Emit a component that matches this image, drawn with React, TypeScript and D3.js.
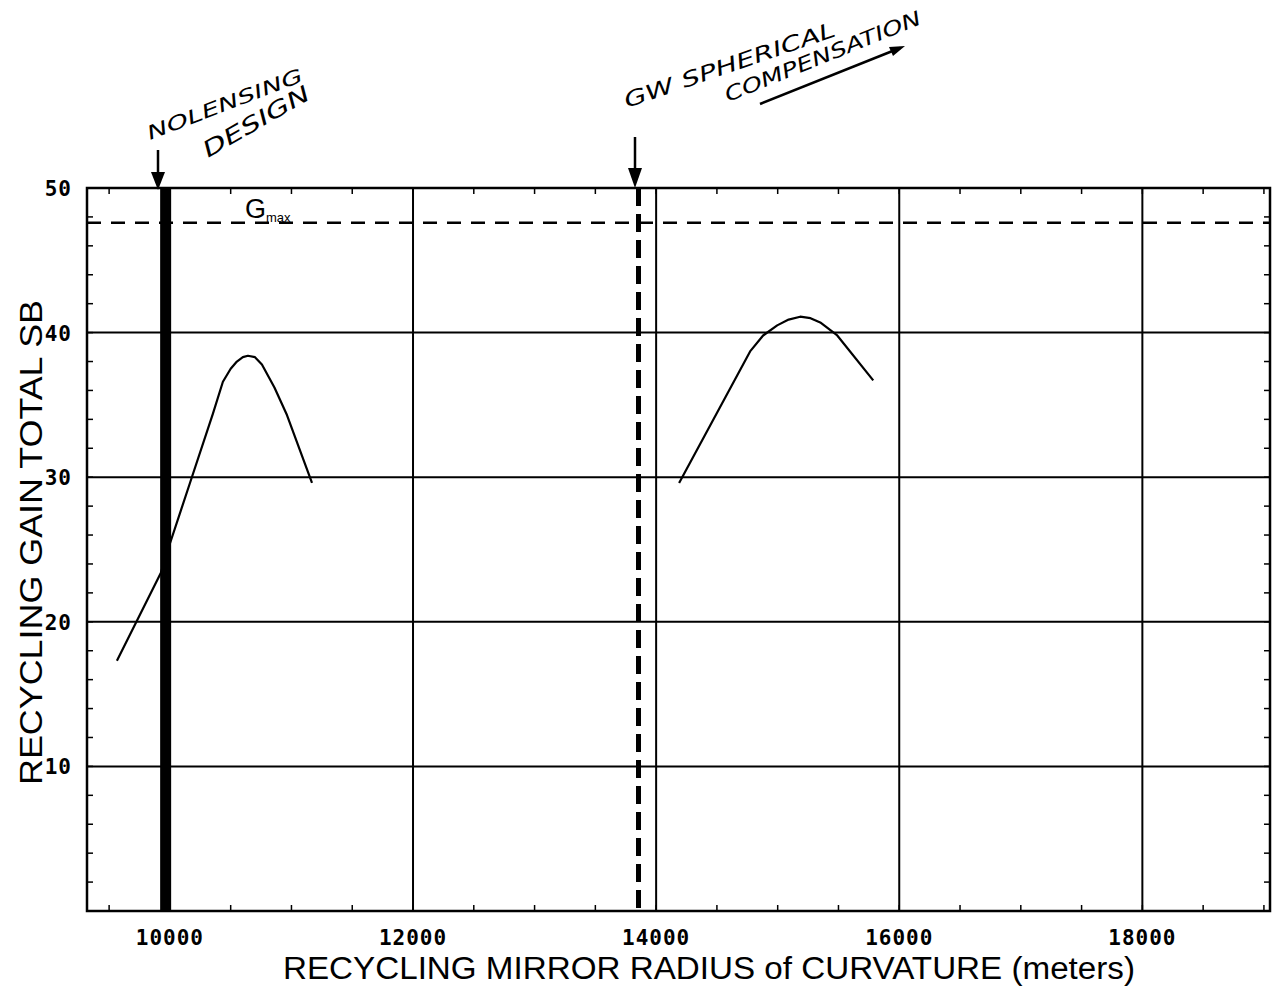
import React from "react";
import * as d3 from "d3";

// ---- data ----
const xTickValues = [10000, 12000, 14000, 16000, 18000];
const yTickValues = [10, 20, 30, 40, 50];
const xTitle = "RECYCLING MIRROR RADIUS of CURVATURE (meters)";
const yTitle = "RECYCLING GAIN TOTAL SB";

const leftCurveX = [9564, 9926, 9984, 10165, 10354, 10436, 10500, 10551, 10600, 10642, 10700, 10757, 10860, 10963, 11169];
const leftCurveY = [17.3, 23.4, 25.0, 29.6, 34.4, 36.6, 37.5, 38.0, 38.3, 38.4, 38.3, 37.8, 36.2, 34.3, 29.6];

const rightCurveX = [14189, 14773, 14880, 14996, 15090, 15185, 15270, 15350, 15490, 15786];
const rightCurveY = [29.6, 38.7, 39.8, 40.5, 40.9, 41.1, 41.0, 40.7, 39.8, 36.7];

const gMax = 47.6;
const noLensingX = 9965;
const gwCompX = 13855;

const W = 1277;
const H = 990;
const left = 87;
const right = 1270;
const top = 188;
const bottom = 911;

export default function App() {
  const x = d3.scaleLinear().domain([9318, 19050]).range([left, right]);
  const y = d3.scaleLinear().domain([0, 50]).range([bottom, top]);

  const line = d3
    .line<[number, number]>()
    .x((d) => x(d[0]))
    .y((d) => y(d[1]))
    .curve(d3.curveLinear);

  const leftPts = leftCurveX.map((v, i) => [v, leftCurveY[i]] as [number, number]);
  const rightPts = rightCurveX.map((v, i) => [v, rightCurveY[i]] as [number, number]);

  const xMinor = d3.range(9500, 19001, 500);
  const yMinor = d3.range(2, 50, 2);

  const hand = "'DejaVu Sans', sans-serif";

  return (
    <svg
      width={W}
      height={H}
      style={{ position: "absolute", left: 0, top: 0, background: "#fff" }}
    >
      <rect x={0} y={0} width={W} height={H} fill="#fff" />
      {/* grid */}
      {xTickValues.map((v) => (
        <line key={"gx" + v} x1={x(v)} x2={x(v)} y1={top} y2={bottom} stroke="#000" strokeWidth={2} />
      ))}
      {yTickValues.map((v) => (
        <line key={"gy" + v} x1={left} x2={right} y1={y(v)} y2={y(v)} stroke="#000" strokeWidth={2} />
      ))}
      {/* minor ticks */}
      {xMinor.map((v) => (
        <g key={"mx" + v}>
          <line x1={x(v)} x2={x(v)} y1={bottom} y2={bottom - 6} stroke="#000" strokeWidth={1.5} />
          <line x1={x(v)} x2={x(v)} y1={top} y2={top + 6} stroke="#000" strokeWidth={1.5} />
        </g>
      ))}
      {yMinor.map((v) => (
        <g key={"my" + v}>
          <line x1={left} x2={left + 6} y1={y(v)} y2={y(v)} stroke="#000" strokeWidth={1.5} />
          <line x1={right} x2={right - 6} y1={y(v)} y2={y(v)} stroke="#000" strokeWidth={1.5} />
        </g>
      ))}
      {/* frame */}
      <rect x={left} y={top} width={right - left} height={bottom - top} fill="none" stroke="#000" strokeWidth={2.5} />

      {/* Gmax dashed */}
      <line x1={left} x2={right} y1={y(gMax)} y2={y(gMax)} stroke="#000" strokeWidth={2.5} strokeDasharray="14,10" />
      <text x={245} y={y(gMax) - 5} fontFamily="'Liberation Sans', Arial, sans-serif" fontSize={27} fill="#000">
        G
        <tspan fontSize={13} dy={4}>max</tspan>
      </text>

      {/* vertical design markers */}
      <line x1={x(noLensingX)} x2={x(noLensingX)} y1={top} y2={bottom} stroke="#000" strokeWidth={11} />
      <line x1={x(gwCompX)} x2={x(gwCompX)} y1={top} y2={bottom} stroke="#000" strokeWidth={5} strokeDasharray="18,8" />

      {/* curves */}
      <path d={line(leftPts) || ""} fill="none" stroke="#000" strokeWidth={2.2} strokeLinejoin="round" />
      <path d={line(rightPts) || ""} fill="none" stroke="#000" strokeWidth={2.2} strokeLinejoin="round" />

      {/* x tick labels */}
      {xTickValues.map((v) => (
        <text
          key={"tx" + v}
          x={x(v)}
          y={945}
          textAnchor="middle"
          fontFamily="'DejaVu Sans Mono', monospace"
          fontWeight="bold"
          fontSize={21}
          letterSpacing={1}
          fill="#000"
        >
          {v}
        </text>
      ))}
      {/* y tick labels */}
      {yTickValues.map((v) => (
        <text
          key={"ty" + v}
          x={72}
          y={y(v) + 8}
          textAnchor="end"
          fontFamily="'DejaVu Sans Mono', monospace"
          fontWeight="bold"
          fontSize={21}
          letterSpacing={1}
          fill="#000"
        >
          {v}
        </text>
      ))}

      {/* axis titles */}
      <text
        x={(283 + 1135) / 2}
        y={979}
        textAnchor="middle"
        fontFamily="'Liberation Sans', Arial, sans-serif"
        fontSize={31}
        textLength={852}
        lengthAdjust="spacingAndGlyphs"
        fill="#000"
      >
        {xTitle}
      </text>
      <text
        transform={`translate(42, ${(300 + 785) / 2}) rotate(-90)`}
        textAnchor="middle"
        fontFamily="'Liberation Sans', Arial, sans-serif"
        fontSize={32}
        textLength={485}
        lengthAdjust="spacingAndGlyphs"
        fill="#000"
      >
        {yTitle}
      </text>

      {/* handwritten annotations */}
      <line x1={158} x2={158} y1={150} y2={180} stroke="#000" strokeWidth={2.5} />
      <path d="M151,172 L158,190 L165,172 Z" fill="#000" />
      <text transform="translate(150,140) rotate(-21)" fontFamily={hand} fontStyle="italic" fontSize={19} fill="#000" textLength={165} lengthAdjust="spacingAndGlyphs">
        NOLENSING
      </text>
      <text transform="translate(208,158) rotate(-30)" fontFamily={hand} fontStyle="italic" fontSize={22} fill="#000" textLength={120} lengthAdjust="spacingAndGlyphs">
        DESIGN
      </text>

      <line x1={635} x2={635} y1={137} y2={176} stroke="#000" strokeWidth={2.5} />
      <path d="M628,168 L635,188 L642,168 Z" fill="#000" />
      <text transform="translate(627,108) rotate(-19)" fontFamily={hand} fontStyle="italic" fontSize={21} fill="#000" textLength={222} lengthAdjust="spacingAndGlyphs">
        GW SPHERICAL
      </text>
      <text transform="translate(728,102) rotate(-22)" fontFamily={hand} fontStyle="italic" fontSize={20} fill="#000" textLength={210} lengthAdjust="spacingAndGlyphs">
        COMPENSATION
      </text>
      <line x1={760} y1={104} x2={900} y2={48} stroke="#000" strokeWidth={2.5} />
      <path d="M905,46 L889,47 L893,56 Z" fill="#000" />
    </svg>
  );
}
